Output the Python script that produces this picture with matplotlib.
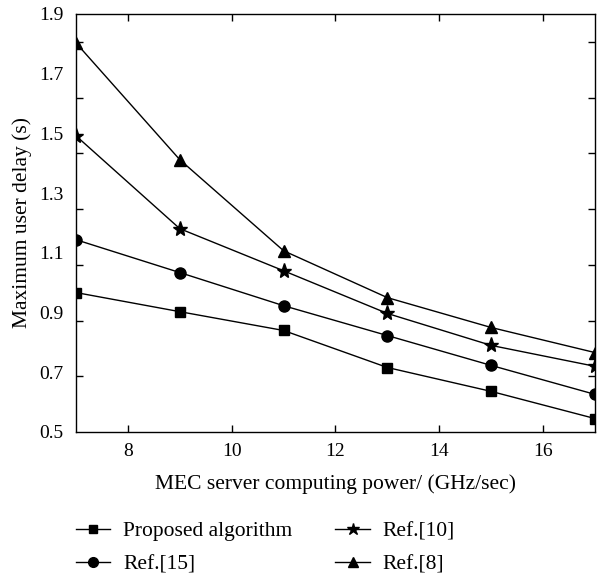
import matplotlib
matplotlib.use("Agg")
import matplotlib.pyplot as plt
import numpy as np

x = [7, 9, 11, 13, 15, 17]
proposed = [0.967, 0.903, 0.840, 0.716, 0.636, 0.545]
ref15 = [1.144, 1.034, 0.923, 0.823, 0.723, 0.626]
ref10 = [1.492, 1.181, 1.040, 0.897, 0.790, 0.720]
ref8 = [1.803, 1.412, 1.107, 0.950, 0.850, 0.766]

xticks = [8, 10, 12, 14, 16]
yticklabels = [0.5, 0.7, 0.9, 1.1, 1.3, 1.5, 1.7, 1.9]

plt.rcParams['font.family'] = ['Liberation Serif', 'DejaVu Serif']

fig = plt.figure(figsize=(5.97, 5.78), dpi=100)
ax = fig.add_axes([0.1273, 0.2526, 0.8693, 0.7232])

ax.plot(x, proposed, color='black', lw=1, marker='s', ms=7, label='Proposed algorithm')
ax.plot(x, ref15, color='black', lw=1, marker='o', ms=8, label='Ref.[15]')
ax.plot(x, ref10, color='black', lw=1, marker='*', ms=11, label='Ref.[10]')
ax.plot(x, ref8, color='black', lw=1, marker='^', ms=9, label='Ref.[8]')

ax.set_xlim(7, 17)
ax.set_ylim(0.5, 1.9)
ax.set_xticks(xticks)
ax.set_xticklabels([str(v) for v in xticks])
ax.set_yticks(yticklabels)
ax.set_yticklabels([f"{v:.1f}" for v in yticklabels])
# tick marks on y axis (offset from labels as in reference)
minor_y = [0.5 + k * 1.4 / 7.5 for k in range(1, 8)]
ax.set_yticks(minor_y, minor=True)
ax.tick_params(axis='y', which='major', length=0, labelsize=14, pad=9)
ax.tick_params(axis='y', which='minor', length=5, direction='in', left=True, right=True, width=1)
ax.tick_params(axis='x', which='major', length=5, direction='in', top=True, bottom=True, labelsize=14, pad=8, width=1)
ax.tick_params(axis='x', which='minor', length=0)

for s in ax.spines.values():
    s.set_linewidth(1)

ax.set_xlabel('MEC server computing power/ (GHz/sec)', fontsize=15.5, labelpad=10)
ax.set_ylabel('Maximum user delay (s)', fontsize=15.5, labelpad=5)

leg = fig.legend(loc='upper left', bbox_to_anchor=(0.127, 0.098), ncol=2, frameon=False,
                 fontsize=15.5, handlelength=1.6, columnspacing=2.0, handletextpad=0.6,
                 labelspacing=0.6, borderaxespad=0, borderpad=0)
for h, m in zip(leg.legend_handles, [6, 7, 9, 7.5]):
    h.set_markersize(m)
fig.savefig('out.png', dpi=100)
